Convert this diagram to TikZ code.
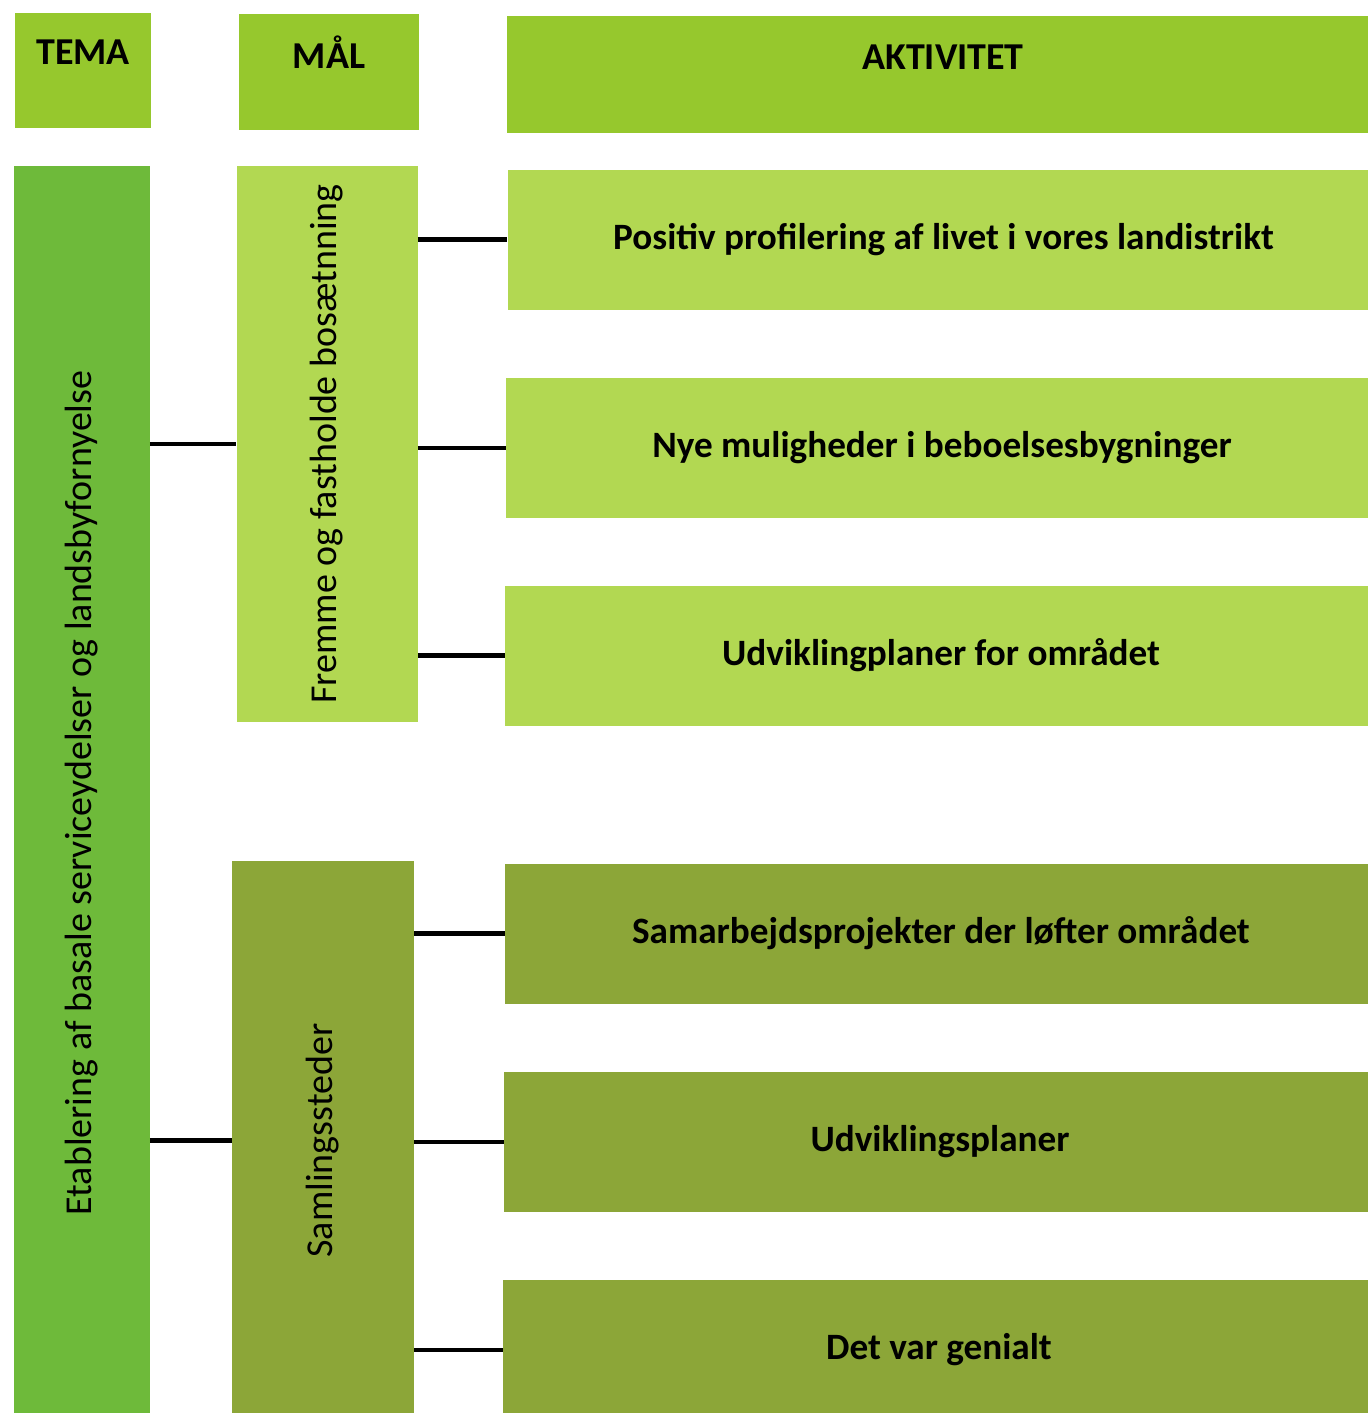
\documentclass[tikz,border=0pt]{standalone}
\usepackage{fontspec}
\setmainfont{Carlito}
\usepackage{xcolor}
\definecolor{headgreen}{RGB}{150,200,45}
\definecolor{temagreen}{RGB}{110,186,58}
\definecolor{lightgreen}{RGB}{178,216,82}
\definecolor{olivegreen}{RGB}{140,166,56}
\tikzstyle{box} = [rectangle, inner sep=0pt, text centered]
\tikzstyle{head} = [box, font=\bfseries\fontsize{19}{22}\selectfont, fill=headgreen]
\tikzstyle{goal} = [box, font=\fontsize{19}{22}\selectfont, minimum height=278pt]
\tikzstyle{activity} = [box, font=\bfseries\fontsize{18.6}{22}\selectfont, minimum width=436pt, minimum height=70pt]
\tikzstyle{link} = [line width=2.2pt]

\begin{document}
\begin{tikzpicture}[x=0.5pt, y=-0.5pt]
\useasboundingbox (0,0) rectangle (1368,1413);
\clip (0,0) rectangle (1368,1413);

% headers
\node at (83,70.5) (tema head) [head, minimum width=68pt, minimum height=57.5pt] {\raisebox{18.5pt}{TEMA}};
\node at (329,72) (maal head) [head, minimum width=90pt, minimum height=58pt] {\raisebox{20pt}{MÅL}};
\node at (943,74.5) (akt head) [head, minimum width=436pt, minimum height=58.5pt] {\raisebox{17.5pt}{AKTIVITET}};

% tema
\node at (81.5,793) (tema) [box, fill=temagreen, font=\fontsize{19}{22}\selectfont, minimum width=68pt, minimum height=627pt] {\rotatebox{90}{Etablering af basale serviceydelser og landsbyfornyelse}};

% maal
\node at (327,444) (maal1) [goal, fill=lightgreen, minimum width=90.5pt] {\rotatebox{90}{Fremme og fastholde bosætnning}};
\node at (323,1140.5) (maal2) [goal, fill=olivegreen, minimum width=91pt, minimum height=279.5pt] {\rotatebox{90}{Samlingssteder}};

% aktiviteter
\node at (943.5,239.5) (akt1) [activity, fill=lightgreen] {Positiv profilering af livet i vores landistrikt};
\node at (942,448) (akt2) [activity, fill=lightgreen] {Nye muligheder i beboelsesbygninger};
\node at (941,655.5) (akt3) [activity, fill=lightgreen] {Udviklingplaner for området};
\node at (941,933.5) (akt4) [activity, fill=olivegreen] {Samarbejdsprojekter der løfter området};
\node at (940,1142) (akt5) [activity, fill=olivegreen] {Udviklingsplaner};
\node at (939,1350) (akt6) [activity, fill=olivegreen] {Det var genialt};

\draw[link] (tema.east |- maal1.west) -- (maal1.west);
\draw[link] (tema.east |- maal2.west) -- (maal2.west);
\foreach \a in {akt1, akt2, akt3}
  \draw[link] (maal1.east |- \a.west) -- (\a.west);
\foreach \a in {akt4, akt5, akt6}
  \draw[link] (maal2.east |- \a.west) -- (\a.west);

\end{tikzpicture}
\end{document}
